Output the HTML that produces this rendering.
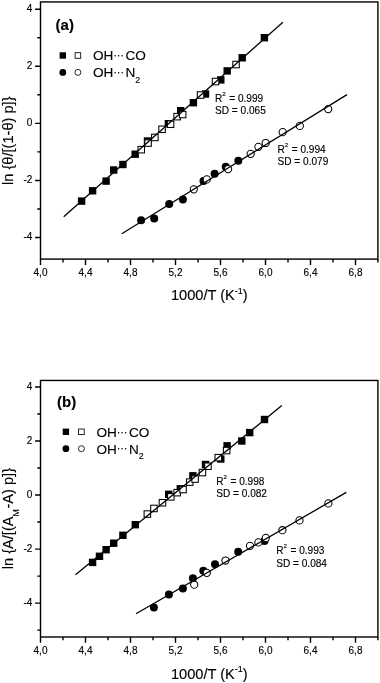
<!DOCTYPE html>
<html><head><meta charset="utf-8"><title>plot</title>
<style>
html,body{margin:0;padding:0;background:#fff;}
body{width:380px;height:683px;overflow:hidden;}
svg{display:block;}
text{font-family:"Liberation Sans",Arial,Helvetica,sans-serif;fill:#000;stroke:#000;stroke-width:0.14;}
.tk{font-size:10px;}
.an{font-size:10.1px;}
.ti{font-size:14.6px;}
.lg{font-size:13.6px;}
.pl{font-size:15px;font-weight:bold;}
.ax{stroke:#000;stroke-width:1.4;fill:none;stroke-linecap:butt;}
.fl{stroke:#000;stroke-width:1.3;fill:none;}
.fs{fill:#000;stroke:none;}
.os{fill:#fff;stroke:#000;stroke-width:1.05;}
</style></head><body>
<svg width="380" height="683" viewBox="0 0 380 683">
<rect x="0" y="0" width="380" height="683" fill="#fff"/>
<g>
<rect class="fs" x="77.9" y="197.4" width="7.4" height="7.4"/><rect class="fs" x="88.9" y="187.1" width="7.4" height="7.4"/><rect class="fs" x="102.4" y="177.4" width="7.4" height="7.4"/><rect class="fs" x="110.0" y="166.3" width="7.4" height="7.4"/><rect class="fs" x="119.2" y="160.8" width="7.4" height="7.4"/><rect class="fs" x="131.5" y="150.5" width="7.4" height="7.4"/><rect class="fs" x="143.8" y="137.3" width="7.4" height="7.4"/><rect class="fs" x="164.7" y="120.0" width="7.4" height="7.4"/><rect class="fs" x="177.0" y="107.0" width="7.4" height="7.4"/><rect class="fs" x="189.7" y="99.0" width="7.4" height="7.4"/><rect class="fs" x="201.8" y="90.3" width="7.4" height="7.4"/><rect class="fs" x="217.1" y="76.2" width="7.4" height="7.4"/><rect class="fs" x="223.5" y="67.2" width="7.4" height="7.4"/><rect class="fs" x="238.5" y="54.1" width="7.4" height="7.4"/><rect class="fs" x="260.7" y="34.0" width="7.4" height="7.4"/>
<rect class="os" x="138.0" y="146.4" width="6.5" height="6.5"/><rect class="os" x="144.8" y="139.8" width="6.5" height="6.5"/><rect class="os" x="151.6" y="134.2" width="6.5" height="6.5"/><rect class="os" x="158.8" y="126.0" width="6.5" height="6.5"/><rect class="os" x="167.3" y="121.0" width="6.5" height="6.5"/><rect class="os" x="173.9" y="113.4" width="6.5" height="6.5"/><rect class="os" x="179.4" y="111.3" width="6.5" height="6.5"/><rect class="os" x="197.3" y="91.8" width="6.5" height="6.5"/><rect class="os" x="212.3" y="78.3" width="6.5" height="6.5"/><rect class="os" x="232.8" y="61.3" width="6.5" height="6.5"/>
<circle class="fs" cx="141.1" cy="220.3" r="4.0"/><circle class="fs" cx="154.2" cy="218.4" r="4.0"/><circle class="fs" cx="169.2" cy="203.9" r="4.0"/><circle class="fs" cx="182.9" cy="199.5" r="4.0"/><circle class="fs" cx="203.5" cy="181.0" r="4.0"/><circle class="fs" cx="214.6" cy="173.8" r="4.0"/><circle class="fs" cx="225.7" cy="166.7" r="4.0"/><circle class="fs" cx="238.3" cy="160.8" r="4.0"/>
<circle class="os" cx="193.8" cy="189.3" r="3.6"/><circle class="os" cx="206.8" cy="179.4" r="3.6"/><circle class="os" cx="228.1" cy="169.1" r="3.6"/><circle class="os" cx="250.7" cy="153.8" r="3.6"/><circle class="os" cx="258.4" cy="146.8" r="3.6"/><circle class="os" cx="265.7" cy="143.0" r="3.6"/><circle class="os" cx="282.7" cy="132.2" r="3.6"/><circle class="os" cx="299.8" cy="125.9" r="3.6"/><circle class="os" cx="328.2" cy="109.1" r="3.6"/>
<line class="fl" x1="63.7" y1="216.8" x2="282.9" y2="22.3"/>
<line class="fl" x1="121.8" y1="233.7" x2="347.0" y2="94.6"/>
<rect class="ax" x="40.50" y="1.95" width="337.40" height="257.15"/>
<path class="ax" d="M40.50 259.10v5.8M85.50 259.10v5.8M130.50 259.10v5.8M175.50 259.10v5.8M220.50 259.10v5.8M265.50 259.10v5.8M310.50 259.10v5.8M355.50 259.10v5.8M63.00 259.10v3.3M108.00 259.10v3.3M153.00 259.10v3.3M198.00 259.10v3.3M243.00 259.10v3.3M288.00 259.10v3.3M333.00 259.10v3.3M377.90 259.10v3.3M40.50 9.20h-5.4M40.50 66.28h-5.4M40.50 123.35h-5.4M40.50 180.43h-5.4M40.50 237.50h-5.4M40.50 37.74h-3.2M40.50 94.81h-3.2M40.50 151.89h-3.2M40.50 208.96h-3.2"/>
<text class="tk" text-anchor="middle" x="40.5" y="275.6">4,0</text><text class="tk" text-anchor="middle" x="85.5" y="275.6">4,4</text><text class="tk" text-anchor="middle" x="130.5" y="275.6">4,8</text><text class="tk" text-anchor="middle" x="175.5" y="275.6">5,2</text><text class="tk" text-anchor="middle" x="220.5" y="275.6">5,6</text><text class="tk" text-anchor="middle" x="265.5" y="275.6">6,0</text><text class="tk" text-anchor="middle" x="310.5" y="275.6">6,4</text><text class="tk" text-anchor="middle" x="355.5" y="275.6">6,8</text>
<text class="tk" text-anchor="end" x="32.4" y="11.9">4</text><text class="tk" text-anchor="end" x="32.4" y="69.0">2</text><text class="tk" text-anchor="end" x="32.4" y="126.1">0</text><text class="tk" text-anchor="end" x="32.4" y="183.1">-2</text><text class="tk" text-anchor="end" x="32.4" y="240.2">-4</text>
<text class="ti" text-anchor="middle" x="209.3" y="300.1">1000/T (K<tspan font-size="9" dy="-6.3">-1</tspan><tspan dy="6.3">)</tspan></text>
<text class="ti" text-anchor="middle" transform="translate(12.7 140.7) rotate(-90)">ln {θ/[(1-θ) p]}</text>
<text class="pl" x="55.6" y="30.3">(a)</text>
<rect class="fs" x="59.6" y="52.3" width="6.4" height="6.4"/><rect class="os" style="stroke-width:0.85" x="75.1" y="52.7" width="5.6" height="5.6"/><circle class="fs" cx="62.8" cy="72.4" r="3.4"/><circle class="os" style="stroke-width:0.85" cx="77.9" cy="72.4" r="3.0"/>
<text class="lg" x="92.9" y="60.3">OH<tspan font-size="11" letter-spacing="-0.13" dy="-1.1">···</tspan><tspan dx="1.6" dy="1.1">CO</tspan></text>
<text class="lg" x="92.9" y="77.0">OH<tspan font-size="11" letter-spacing="-0.13" dy="-1.1">···</tspan><tspan dx="1.6" dy="1.1">N</tspan><tspan font-size="8.8" dy="5.5">2</tspan></text>
<text class="an" x="215.0" y="101.5">R<tspan font-size="6.2" dy="-5.4">2</tspan><tspan dy="5.4" dx="0.7"> = 0.999</tspan></text><text class="an" x="215.0" y="114.3">SD = 0.065</text>
<text class="an" x="277.5" y="152.5">R<tspan font-size="6.2" dy="-5.4">2</tspan><tspan dy="5.4" dx="0.7"> = 0.994</tspan></text><text class="an" x="277.5" y="165.3">SD = 0.079</text>
</g>
<g>
<rect class="fs" x="88.9" y="558.7" width="7.4" height="7.4"/><rect class="fs" x="95.8" y="552.6" width="7.4" height="7.4"/><rect class="fs" x="102.4" y="546.0" width="7.4" height="7.4"/><rect class="fs" x="110.0" y="539.5" width="7.4" height="7.4"/><rect class="fs" x="119.2" y="531.6" width="7.4" height="7.4"/><rect class="fs" x="131.6" y="521.0" width="7.4" height="7.4"/><rect class="fs" x="165.0" y="490.6" width="7.4" height="7.4"/><rect class="fs" x="176.6" y="485.1" width="7.4" height="7.4"/><rect class="fs" x="189.2" y="472.1" width="7.4" height="7.4"/><rect class="fs" x="201.8" y="460.8" width="7.4" height="7.4"/><rect class="fs" x="217.1" y="455.3" width="7.4" height="7.4"/><rect class="fs" x="223.4" y="442.1" width="7.4" height="7.4"/><rect class="fs" x="238.1" y="437.3" width="7.4" height="7.4"/><rect class="fs" x="246.0" y="428.9" width="7.4" height="7.4"/><rect class="fs" x="260.8" y="415.8" width="7.4" height="7.4"/>
<rect class="os" x="144.1" y="510.8" width="6.5" height="6.5"/><rect class="os" x="150.7" y="505.2" width="6.5" height="6.5"/><rect class="os" x="159.2" y="499.5" width="6.5" height="6.5"/><rect class="os" x="167.6" y="493.6" width="6.5" height="6.5"/><rect class="os" x="173.9" y="489.4" width="6.5" height="6.5"/><rect class="os" x="179.8" y="486.3" width="6.5" height="6.5"/><rect class="os" x="186.5" y="478.9" width="6.5" height="6.5"/><rect class="os" x="191.8" y="475.8" width="6.5" height="6.5"/><rect class="os" x="199.2" y="469.3" width="6.5" height="6.5"/><rect class="os" x="204.7" y="463.0" width="6.5" height="6.5"/><rect class="os" x="215.0" y="454.4" width="6.5" height="6.5"/><rect class="os" x="223.4" y="447.3" width="6.5" height="6.5"/>
<circle class="fs" cx="153.9" cy="607.6" r="4.0"/><circle class="fs" cx="168.9" cy="594.5" r="4.0"/><circle class="fs" cx="182.9" cy="588.4" r="4.0"/><circle class="fs" cx="192.9" cy="578.2" r="4.0"/><circle class="fs" cx="203.3" cy="570.8" r="4.0"/><circle class="fs" cx="215.0" cy="564.2" r="4.0"/><circle class="fs" cx="238.2" cy="551.8" r="4.0"/><circle class="fs" cx="264.5" cy="541.0" r="4.0"/>
<circle class="os" cx="194.2" cy="584.7" r="3.6"/><circle class="os" cx="206.8" cy="572.8" r="3.6"/><circle class="os" cx="225.5" cy="560.5" r="3.6"/><circle class="os" cx="250.0" cy="545.8" r="3.6"/><circle class="os" cx="258.4" cy="542.4" r="3.6"/><circle class="os" cx="265.8" cy="537.9" r="3.6"/><circle class="os" cx="282.4" cy="530.2" r="3.6"/><circle class="os" cx="299.5" cy="520.4" r="3.6"/><circle class="os" cx="328.4" cy="503.4" r="3.6"/>
<line class="fl" x1="75.5" y1="574.7" x2="281.8" y2="405.5"/>
<line class="fl" x1="136.0" y1="613.7" x2="346.3" y2="492.4"/>
<rect class="ax" x="40.50" y="380.45" width="337.40" height="256.55"/>
<path class="ax" d="M40.50 637.00v5.8M85.50 637.00v5.8M130.50 637.00v5.8M175.50 637.00v5.8M220.50 637.00v5.8M265.50 637.00v5.8M310.50 637.00v5.8M355.50 637.00v5.8M63.00 637.00v3.3M108.00 637.00v3.3M153.00 637.00v3.3M198.00 637.00v3.3M243.00 637.00v3.3M288.00 637.00v3.3M333.00 637.00v3.3M377.90 637.00v3.3M40.50 387.00h-5.4M40.50 441.02h-5.4M40.50 495.05h-5.4M40.50 549.08h-5.4M40.50 603.10h-5.4M40.50 414.01h-3.2M40.50 468.04h-3.2M40.50 522.06h-3.2M40.50 576.09h-3.2M40.50 630.11h-3.2"/>
<text class="tk" text-anchor="middle" x="40.5" y="653.5">4,0</text><text class="tk" text-anchor="middle" x="85.5" y="653.5">4,4</text><text class="tk" text-anchor="middle" x="130.5" y="653.5">4,8</text><text class="tk" text-anchor="middle" x="175.5" y="653.5">5,2</text><text class="tk" text-anchor="middle" x="220.5" y="653.5">5,6</text><text class="tk" text-anchor="middle" x="265.5" y="653.5">6,0</text><text class="tk" text-anchor="middle" x="310.5" y="653.5">6,4</text><text class="tk" text-anchor="middle" x="355.5" y="653.5">6,8</text>
<text class="tk" text-anchor="end" x="32.4" y="389.7">4</text><text class="tk" text-anchor="end" x="32.4" y="443.7">2</text><text class="tk" text-anchor="end" x="32.4" y="497.8">0</text><text class="tk" text-anchor="end" x="32.4" y="551.8">-2</text><text class="tk" text-anchor="end" x="32.4" y="605.8">-4</text>
<text class="ti" text-anchor="middle" x="209.3" y="678.6">1000/T (K<tspan font-size="9" dy="-6.3">-1</tspan><tspan dy="6.3">)</tspan></text>
<text class="ti" text-anchor="middle" transform="translate(12.7 518.6) rotate(-90)">ln {A/[(A<tspan font-size="8.8" dy="5.8">M</tspan><tspan dy="-5.8" dx="0.6">-A) p]}</tspan></text>
<text class="pl" x="57.0" y="406.7">(b)</text>
<rect class="fs" x="62.7" y="428.6" width="6.4" height="6.4"/><rect class="os" style="stroke-width:0.85" x="78.6" y="429.0" width="5.6" height="5.6"/><circle class="fs" cx="65.9" cy="448.7" r="3.4"/><circle class="os" style="stroke-width:0.85" cx="81.4" cy="448.7" r="3.0"/>
<text class="lg" x="96.4" y="436.6">OH<tspan font-size="11" letter-spacing="-0.13" dy="-1.1">···</tspan><tspan dx="1.6" dy="1.1">CO</tspan></text>
<text class="lg" x="96.4" y="453.5">OH<tspan font-size="11" letter-spacing="-0.13" dy="-1.1">···</tspan><tspan dx="1.6" dy="1.1">N</tspan><tspan font-size="8.8" dy="5.5">2</tspan></text>
<text class="an" x="216.2" y="484.6">R<tspan font-size="6.2" dy="-5.4">2</tspan><tspan dy="5.4" dx="0.7"> = 0.998</tspan></text><text class="an" x="216.2" y="497.4">SD = 0.082</text>
<text class="an" x="276.2" y="553.7">R<tspan font-size="6.2" dy="-5.4">2</tspan><tspan dy="5.4" dx="0.7"> = 0.993</tspan></text><text class="an" x="276.2" y="566.5">SD = 0.084</text>
</g>
</svg>
</body></html>
